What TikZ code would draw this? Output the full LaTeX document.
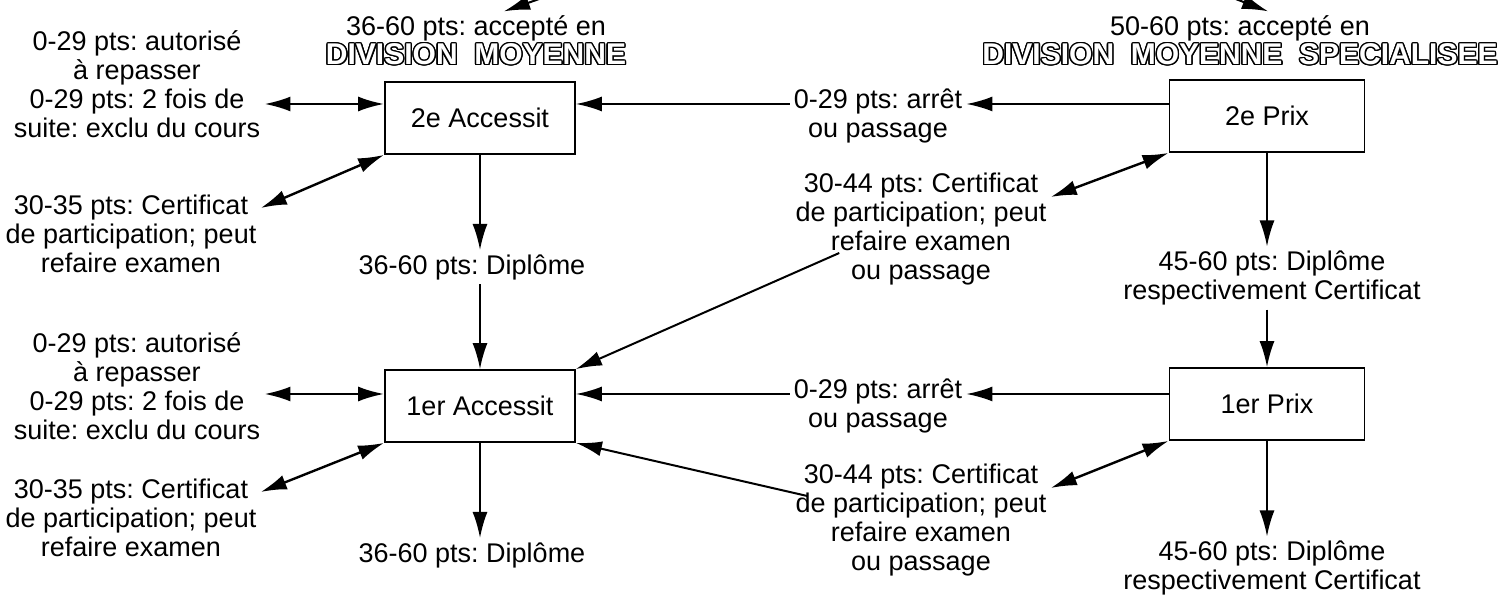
\documentclass[tikz,border=0pt]{standalone}
\usepackage{fontspec}
\setmainfont{Liberation Sans}
\usepackage{contour}
\usetikzlibrary{arrows.meta}
\contourlength{0.7pt}
\frenchspacing
\newcommand{\hollow}[1]{{\fontsize{15}{15}\selectfont\contour{black}{\textcolor{white}{\bfseries #1}}}}
\tikzset{
  box/.style={draw, line width=0.9pt, minimum width=95pt, minimum height=36pt, inner sep=0pt},
  txt/.style={align=center, inner sep=2pt},
  arr/.style={-{Latex[length=13pt,width=7.5pt]}, line width=1pt},
  dbl/.style={{Latex[length=13pt,width=7.5pt]}-{Latex[length=13pt,width=7.5pt]}, line width=1.2pt},
}
\begin{document}
\begin{tikzpicture}[x=0.5pt, y=-0.5pt, every node/.style={font=\fontsize{13.5}{14.5}\selectfont}]
\clip (0,0) rectangle (1504,597);
% boxes
\node[box] (acc2) at (480,118) {2e Accessit};
\node[box, minimum width=97.5pt] (prix2) at (1267,116) {2e Prix};
\node[box] (acc1) at (480,406) {1er Accessit};
\node[box, minimum width=97.5pt] (prix1) at (1267,404) {1er Prix};
% labels
\node[txt] (divA) at (476,41) {36-60 pts: accepté en\\\hollow{DIVISION\ \ MOYENNE}};
\node[txt] (divB) at (1240,41) {50-60 pts: accepté en\\\hollow{DIVISION\ \ MOYENNE\ \ SPECIALISEE}};
\node[txt] (rep2) at (137,84) {0-29 pts: autorisé\\à repasser\\0-29 pts: 2 fois de\\suite: exclu du cours};
\node[txt] (cert2) at (131,234) {30-35 pts: Certificat\\de participation; peut\\refaire examen};
\node[txt] (rep1) at (137,386) {0-29 pts: autorisé\\à repasser\\0-29 pts: 2 fois de\\suite: exclu du cours};
\node[txt] (cert1) at (131,518) {30-35 pts: Certificat\\de participation; peut\\refaire examen};
\node[txt] (dipA) at (472,267) {36-60 pts: Diplôme};
\node[txt] (dipB) at (472,555) {36-60 pts: Diplôme};
\node[txt] (arret2) at (878,116) {0-29 pts: arrêt\\ou passage};
\node[txt] (arret1) at (878,406) {0-29 pts: arrêt\\ou passage};
\node[txt] (certP2) at (921,229) {30-44 pts: Certificat\\de participation; peut\\refaire examen\\ou passage};
\node[txt] (certP1) at (921,520) {30-44 pts: Certificat\\de participation; peut\\refaire examen\\ou passage};
\node[txt] (dipP2) at (1272,278) {45-60 pts: Diplôme\\respectivement Certificat};
\node[txt] (dipP1) at (1272,568) {45-60 pts: Diplôme\\respectivement Certificat};
% entries from above
\coordinate (inA) at (565,-10);
\coordinate (inB) at (1212,-10);
\draw[arr] (inA) -- ([xshift=14pt]divA.north);
\draw[arr] (inB) -- ([xshift=14pt]divB.north);
% upper row
\coordinate (hA) at ([yshift=7pt]acc2.west);
\draw[dbl] (rep2.east |- hA) -- (hA);
\draw[dbl] ([yshift=13pt]cert2.east) -- (acc2.south west);
\draw[arr] (arret2.west |- hA) -- (acc2.east |- hA);
\draw[arr] (prix2.west |- hA) -- (arret2.east |- hA);
\draw[dbl] ([yshift=16pt]certP2.east) -- (prix2.south west);
\draw[arr] ([xshift=24pt,yshift=-12pt]certP2.west) -- (acc1.north east);
\draw[arr] (acc2.south) -- (acc2.south |- dipA.north);
\draw[arr] (acc2.south |- dipA.south) -- (acc1.north);
\draw[arr] (prix2.south) -- (prix2.south |- dipP2.north);
\draw[arr] (prix2.south |- dipP2.south) -- (prix1.north);
% lower row
\coordinate (hB) at ([yshift=6pt]acc1.west);
\draw[dbl] (rep1.east |- hB) -- (hB);
\draw[dbl] ([yshift=13pt]cert1.east) -- (acc1.south west);
\draw[arr] (arret1.west |- hB) -- (acc1.east |- hB);
\draw[arr] (prix1.west |- hB) -- (arret1.east |- hB);
\draw[dbl] ([yshift=16pt]certP1.east) -- (prix1.south west);
\draw[arr] ([xshift=8pt,yshift=12pt]certP1.west) -- (acc1.south east);
\draw[arr] (acc1.south) -- (acc1.south |- dipB.north);
\draw[arr] (prix1.south) -- (prix1.south |- dipP1.north);
\end{tikzpicture}
\end{document}
